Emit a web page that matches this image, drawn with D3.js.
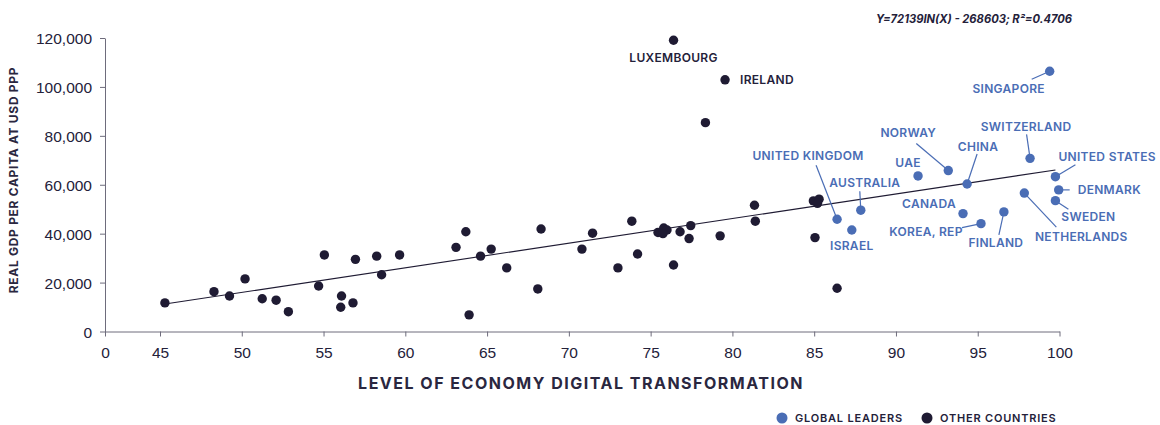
<!DOCTYPE html>
<html>
<head>
<meta charset="utf-8">
<script src="https://cdn.jsdelivr.net/npm/d3@7"></script>
<style>
  html, body { margin: 0; padding: 0; background: #fff; }
  svg { display: block; font-family: Inter, "DejaVu Sans", sans-serif; }
  .axis text { fill: #24213a; font-size: 15.5px; font-weight: 500; }
  .axis path, .axis line { stroke: #6e6c7c; }
  .label { font-size: 12px; font-weight: 600; letter-spacing: 0.3px; }
</style>
</head>
<body>
<svg id="chart" width="1160" height="425"></svg>
<script>
const DARK = '#1f1b33';
const BLUE = '#4a6db5';

// Global leaders (economy digital transformation score, real GDP per capita USD PPP)
const leaderNames = ['United Kingdom', 'Australia', 'Israel', 'UAE', 'Norway', 'China', 'Canada',
  'Korea, Rep', 'Finland', 'Switzerland', 'Netherlands', 'United States', 'Denmark', 'Sweden', 'Singapore'];
const leaderX = [86.4, 87.85, 87.3, 91.35, 93.2, 94.35, 94.1, 95.2, 96.6, 98.2, 97.85, 99.75, 99.95, 99.75, 99.4];
const leaderY = [45900, 49600, 41500, 63600, 65800, 60300, 48200, 44100, 48900, 70800, 56600, 63300, 57900, 53500, 106400];

// Other countries
const otherNames = ['Luxembourg', 'Ireland'];
const otherX = [76.4, 79.55, 78.35, 45.3, 48.3, 49.25, 50.2, 51.25, 52.1, 52.85, 54.7, 55.05, 56.05, 56.1, 56.8,
  56.95, 58.25, 58.55, 59.65, 63.1, 63.7, 63.9, 64.6, 65.25, 66.2, 68.1, 68.3, 70.8, 71.45, 73.0, 73.85,
  74.2, 75.45, 75.8, 76.0, 75.75, 76.4, 76.8, 77.35, 77.45, 79.25, 81.35, 81.4, 84.95, 85.3, 85.2, 85.05, 86.4];
const otherY = [119100, 102900, 85400, 11700, 16300, 14500, 21500, 13400, 12800, 8100, 18600, 31300, 9900, 14500, 11700,
  29500, 30800, 23200, 31300, 34400, 40800, 6800, 30800, 33700, 26000, 17400, 41900, 33700, 40200, 26000, 45100,
  31700, 40500, 42300, 41500, 40000, 27200, 40800, 38000, 43300, 39100, 51600, 45100, 53400, 54100, 52400, 38400, 17700];

// Fitted trend line, as drawn
const trendX = [45.3, 99.75];
const trendY = [11250, 66050];

const xTicks = [0, 45, 50, 55, 60, 65, 70, 75, 80, 85, 90, 95, 100];
const yTicks = [0, 20000, 40000, 60000, 80000, 100000, 120000];

const equation = 'Y=72139IN(X) - 268603; R²=0.4706';
const xTitle = 'LEVEL OF ECONOMY DIGITAL TRANSFORMATION';
const yTitle = 'REAL GDP PER CAPITA AT USD PPP';
const legendItems = [{ text: 'GLOBAL LEADERS', color: BLUE }, { text: 'OTHER COUNTRIES', color: DARK }];

// label placement relative to each dot: text offset, anchor, optional leader end
const labelLayout = {
  'Luxembourg': { dx: 0, dy: 17, anchor: 'middle' },
  'Ireland': { dx: 15, dy: 0, anchor: 'start' },
  'Singapore': { dx: -41, dy: 17, anchor: 'middle', leader: [-18, 8] },
  'Switzerland': { dx: -4, dy: -32, anchor: 'middle', leader: [-3.5, -24] },
  'Norway': { dx: -40, dy: -38, anchor: 'middle', leader: [-32, -27] },
  'China': { dx: 11, dy: -37, anchor: 'middle', leader: [10, -30] },
  'UAE': { dx: -10, dy: -13, anchor: 'middle' },
  'United States': { dx: 3, dy: -20, anchor: 'start', leader: [20, -12] },
  'Denmark': { dx: 19, dy: 0, anchor: 'start', leader: [11, 0] },
  'Sweden': { dx: 33, dy: 16, anchor: 'middle', leader: [13, 8.5] },
  'Netherlands': { dx: 57, dy: 44, anchor: 'middle', leader: [32, 34] },
  'Finland': { dx: -8, dy: 31, anchor: 'middle', leader: [-5, 23] },
  'Korea, Rep': { dx: -55, dy: 8, anchor: 'middle', leader: [-19, 4] },
  'Canada': { dx: -34, dy: -10, anchor: 'middle' },
  'Israel': { dx: 0, dy: 16, anchor: 'middle' },
  'Australia': { dx: 4, dy: -28, anchor: 'middle', leader: [-1, -19] },
  'United Kingdom': { dx: -29, dy: -64, anchor: 'middle', leader: [-21, -54] }
};

const svg = d3.select('#chart');

// broken x axis: 0 sits just left of 45
const x = d3.scaleLinear().domain([0, 45, 100]).range([105, 160, 1059.5]);
const y = d3.scaleLinear().domain([0, 120000]).range([331.5, 38]);

const fmt = d3.format(',');

svg.append('g')
  .attr('class', 'axis')
  .attr('transform', `translate(0,${y(0)})`)
  .call(d3.axisBottom(x).tickValues(xTicks).tickSize(5).tickPadding(8).tickSizeOuter(0))
  .call(g => g.selectAll('text').attr('dy', '0.9em'));

svg.append('g')
  .attr('class', 'axis')
  .attr('transform', `translate(${x(0)},0)`)
  .call(d3.axisLeft(y).tickValues(yTicks).tickFormat(fmt).tickSize(5).tickPadding(8).tickSizeOuter(0))
  .call(g => g.selectAll('text').attr('dy', '0.36em'));

// trend line
svg.append('line')
  .attr('x1', x(trendX[0])).attr('y1', y(trendY[0]))
  .attr('x2', x(trendX[1])).attr('y2', y(trendY[1]))
  .attr('stroke', '#1f1b33').attr('stroke-width', 1.1);

const leaders = leaderNames.map((n, i) => ({ name: n, x: leaderX[i], y: leaderY[i], color: BLUE }));
const others = otherX.map((v, i) => ({ name: otherNames[i], x: v, y: otherY[i], color: DARK }));

// leader lines under the dots
const labelled = leaders.concat(others.filter(d => d.name));
svg.append('g').selectAll('line')
  .data(labelled.filter(d => labelLayout[d.name].leader))
  .join('line')
  .attr('x1', d => x(d.x)).attr('y1', d => y(d.y))
  .attr('x2', d => x(d.x) + labelLayout[d.name].leader[0])
  .attr('y2', d => y(d.y) + labelLayout[d.name].leader[1])
  .attr('stroke', BLUE).attr('stroke-width', 1.2);

svg.append('g').selectAll('circle')
  .data(others.concat(leaders))
  .join('circle')
  .attr('cx', d => x(d.x))
  .attr('cy', d => y(d.y))
  .attr('r', 4.7)
  .attr('fill', d => d.color);

svg.append('g').selectAll('text')
  .data(labelled)
  .join('text')
  .attr('class', 'label')
  .attr('x', d => x(d.x) + labelLayout[d.name].dx)
  .attr('y', d => y(d.y) + labelLayout[d.name].dy)
  .attr('dy', '0.36em')
  .attr('text-anchor', d => labelLayout[d.name].anchor)
  .attr('fill', d => d.color === BLUE ? BLUE : '#24213a')
  .text(d => d.name.toUpperCase());

// titles
svg.append('text')
  .attr('x', 581).attr('y', 383).attr('dy', '0.36em')
  .attr('text-anchor', 'middle')
  .attr('font-size', 16).attr('font-weight', 700)
  .attr('letter-spacing', 1.5)
  .attr('fill', '#2a2740')
  .text(xTitle);

svg.append('text')
  .attr('transform', 'translate(14,180) rotate(-90)')
  .attr('dy', '0.36em')
  .attr('text-anchor', 'middle')
  .attr('font-size', 12).attr('font-weight', 700)
  .attr('letter-spacing', 0.7)
  .attr('fill', '#2a2740')
  .text(yTitle);

svg.append('text')
  .attr('x', 974).attr('y', 19).attr('dy', '0.36em')
  .attr('text-anchor', 'middle')
  .attr('font-size', 11.2).attr('font-weight', 700).attr('font-style', 'italic')
  .attr('fill', '#24213a')
  .text(equation);

// legend
const legend = svg.append('g').attr('transform', 'translate(782,418)');
const items = legend.selectAll('g').data(legendItems).join('g')
  .attr('transform', (d, i) => `translate(${i * 145},0)`);
items.append('circle').attr('r', 5.5).attr('fill', d => d.color);
items.append('text')
  .attr('x', 13).attr('dy', '0.36em')
  .attr('font-size', 11).attr('font-weight', 600)
  .attr('letter-spacing', 0.8)
  .attr('fill', '#24213a')
  .text(d => d.text);
</script>
</body>
</html>
